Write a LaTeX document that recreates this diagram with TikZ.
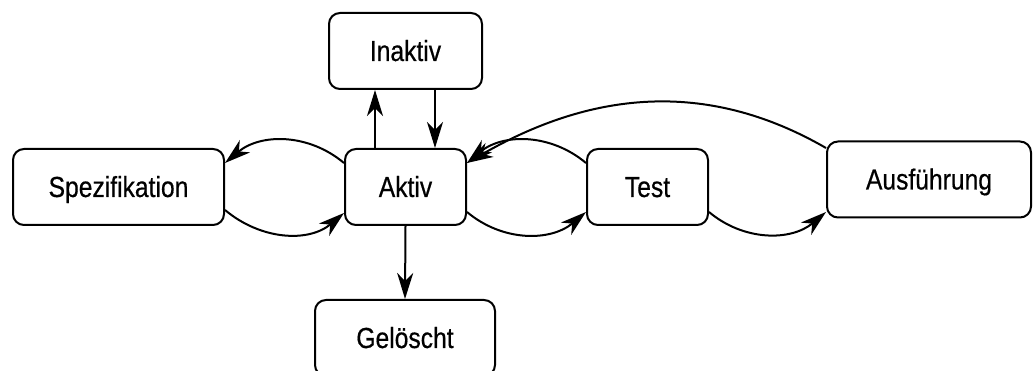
\documentclass[tikz,border=0pt]{standalone}
\usepackage{fontspec}
\setmainfont[FakeStretch=0.85,FakeBold=0.5]{Liberation Sans}
\usetikzlibrary{arrows.meta,calc}

\begin{document}
\begin{tikzpicture}[x=1pt,y=1pt,
  state/.style={draw, line width=2pt, rounded corners=11pt, inner sep=0pt,
    minimum height=76pt, font=\fontsize{29pt}{32pt}\selectfont,
    text height=20pt, text depth=0pt},
  flow/.style={line width=2pt, -{Stealth[length=26pt,width=16pt,inset=8pt]}}
]
\useasboundingbox (0,0) rectangle (1034,371);

% states
\node[state, minimum width=153pt] (inaktiv) at (405.5,320) {Inaktiv};
\node[state, minimum width=211pt] (spez)    at (118.5,184) {Spezifikation};
\node[state, minimum width=121pt] (aktiv)   at (405.5,184) {Aktiv};
\node[state, minimum width=121pt] (test)    at (647.5,184) {Test};
\node[state, minimum width=204pt] (ausf)    at (929,191.5) {Ausführung};
\node[state, minimum width=180pt] (geloescht) at (405,33) {Gelöscht};

% vertical transitions
\draw[flow] ($(aktiv.north)+(-30.5,0)$) -- ($(inaktiv.south)+(-30.5,0)$);
\draw[flow] ($(inaktiv.south)+(29.5,0)$) -- ($(aktiv.north)+(29.5,0)$);
\draw[flow] (aktiv.south) -- (geloescht.north);

% Aktiv <-> Spezifikation
\draw[flow] ($(aktiv.west)+(0,24)$) to[out=140,in=40] ($(spez.east)+(0,24)$);
\draw[flow] ($(spez.east)+(0,-23)$) to[out=-40,in=-140] ($(aktiv.west)+(0,-26)$);

% Aktiv <-> Test
\draw[flow] ($(test.west)+(0,24)$) to[out=140,in=40] ($(aktiv.east)+(0,24)$);
\draw[flow] ($(aktiv.east)+(0,-25)$) to[out=-40,in=-140] ($(test.west)+(0,-25)$);

% Test -> Ausführung -> Aktiv
\draw[flow] ($(test.east)+(0,-25)$) to[out=-40,in=-140] ($(ausf.west)+(0,-32.5)$);
\draw[flow] ($(ausf.west)+(0,31.5)$) to[out=150,in=30] ($(aktiv.east)+(0,24)$);
\end{tikzpicture}
\end{document}
